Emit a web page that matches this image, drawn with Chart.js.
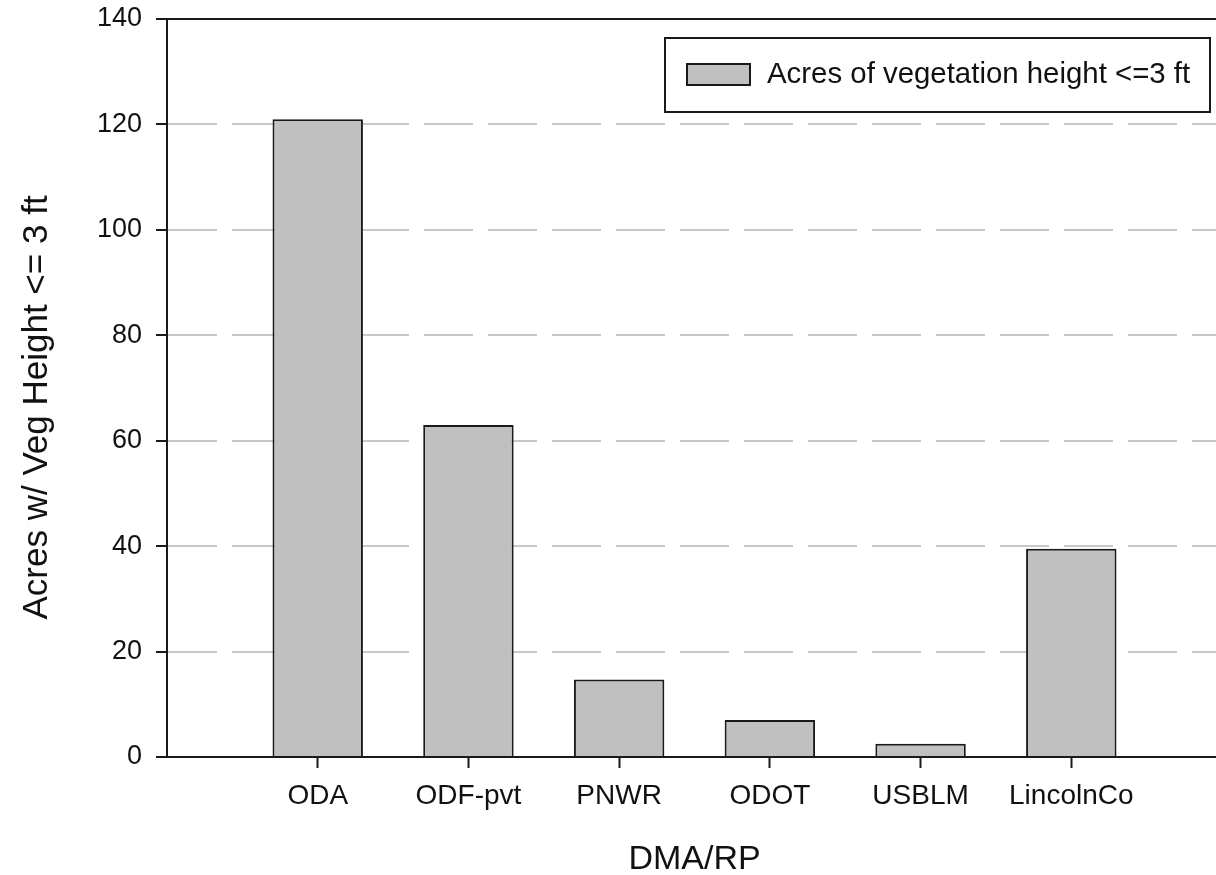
<!DOCTYPE html>
<html>
<head>
<meta charset="utf-8">
<title>Acres w/ Veg Height &lt;= 3 ft</title>
<script src="https://cdn.jsdelivr.net/npm/chart.js@4.4.0/dist/chart.umd.min.js"></script>
<style>
  html, body { margin: 0; padding: 0; background: #fff; overflow: hidden; }
  #wrap { position: absolute; left: 0; top: 0; width: 1230px; height: 875px; }
</style>
</head>
<body>
<div id="wrap"><canvas id="vegChart" width="1230" height="875"></canvas></div>
<script>
// data
const categories = ['ODA', 'ODF-pvt', 'PNWR', 'ODOT', 'USBLM', 'LincolnCo'];
const acres = [121, 63, 14.7, 7, 2.5, 39.5];
const yTicks = [0, 20, 40, 60, 80, 100, 120, 140];
const seriesLabel = 'Acres of vegetation height <=3 ft';

const FONT = 'Liberation Sans, Arial, sans-serif';
const INK = '#111111';

// the axis leaves one empty slot each side of the bars
const labels = ['', ...categories, ''];
const values = [null, ...acres, null];

// box legend sitting inside the plot, top right
const boxLegend = {
  id: 'boxLegend',
  afterDraw(chart) {
    const ctx = chart.ctx;
    const ds = chart.data.datasets[0];
    const x = 665, y = 38, w = 545, h = 74;
    ctx.save();
    ctx.fillStyle = '#fff';
    ctx.fillRect(x, y, w, h);
    ctx.lineWidth = 2;
    ctx.strokeStyle = '#1a1a1a';
    ctx.strokeRect(x, y, w, h);
    ctx.fillStyle = ds.backgroundColor;
    ctx.fillRect(687, 64, 63, 21);
    ctx.strokeRect(687, 64, 63, 21);
    ctx.fillStyle = INK;
    ctx.font = '29.4px ' + FONT;
    ctx.textBaseline = 'middle';
    ctx.fillText(ds.label, 767, 75);
    ctx.restore();
  }
};

// top frame line
const topFrame = {
  id: 'topFrame',
  afterDatasetsDraw(chart) {
    const { ctx, chartArea } = chart;
    ctx.save();
    ctx.lineWidth = 2;
    ctx.strokeStyle = '#1a1a1a';
    ctx.beginPath();
    ctx.moveTo(chartArea.left - 1, chartArea.top);
    ctx.lineTo(chartArea.right + 1, chartArea.top);
    ctx.stroke();
    ctx.restore();
  }
};

new Chart(document.getElementById('vegChart'), {
  type: 'bar',
  data: {
    labels: labels,
    datasets: [{
      label: seriesLabel,
      data: values,
      backgroundColor: '#c0c0c0',
      borderColor: '#1a1a1a',
      borderWidth: 2,
      categoryPercentage: 1,
      barPercentage: 0.6,
    }],
  },
  options: {
    responsive: false,
    animation: false,
    layout: { padding: { top: 19, right: 8, bottom: 0, left: 0 } },
    plugins: {
      legend: { display: false },
      tooltip: { enabled: false },
    },
    scales: {
      x: {
        offset: false,
        afterFit: scale => {
          scale.height = 118;
          scale.paddingLeft = 0;
          scale.paddingRight = 0;
        },
        grid: {
          offset: false,
          drawOnChartArea: false,
          tickLength: 11,
          tickWidth: 2,
          tickColor: ctx => (labels[ctx.index] ? '#1a1a1a' : 'rgba(0,0,0,0)'),
        },
        border: { display: true, color: '#1a1a1a', width: 2 },
        ticks: {
          autoSkip: false,
          maxRotation: 0,
          padding: 11,
          color: INK,
          font: { family: FONT, size: 28 },
        },
        title: {
          display: true,
          text: 'DMA/RP',
          color: INK,
          font: { family: FONT, size: 34, lineHeight: 1 },
          padding: { top: 0, bottom: -2 },
        },
      },
      y: {
        min: 0,
        max: 140,
        afterFit: scale => {
          scale.width = 167;
          scale.paddingTop = 0;
          scale.paddingBottom = 0;
        },
        afterBuildTicks: scale => { scale.ticks = yTicks.map(v => ({ value: v })); },
        grid: {
          color: ctx => (ctx.tick && (ctx.tick.value === 0 || ctx.tick.value === 140) ? 'rgba(0,0,0,0)' : '#c8c8c8'),
          lineWidth: 2,
          tickLength: 11,
          tickWidth: 2,
          tickColor: '#1a1a1a',
        },
        border: { display: true, color: '#1a1a1a', width: 2, dash: [49, 15] },
        ticks: {
          padding: 14,
          color: INK,
          font: { family: FONT, size: 27 },
        },
        title: {
          display: true,
          text: 'Acres w/ Veg Height <= 3 ft    ',
          color: INK,
          font: { family: FONT, size: 35, lineHeight: 1 },
          padding: { top: 20, bottom: 0 },
        },
      },
    },
  },
  plugins: [boxLegend, topFrame],
});
</script>
</body>
</html>
